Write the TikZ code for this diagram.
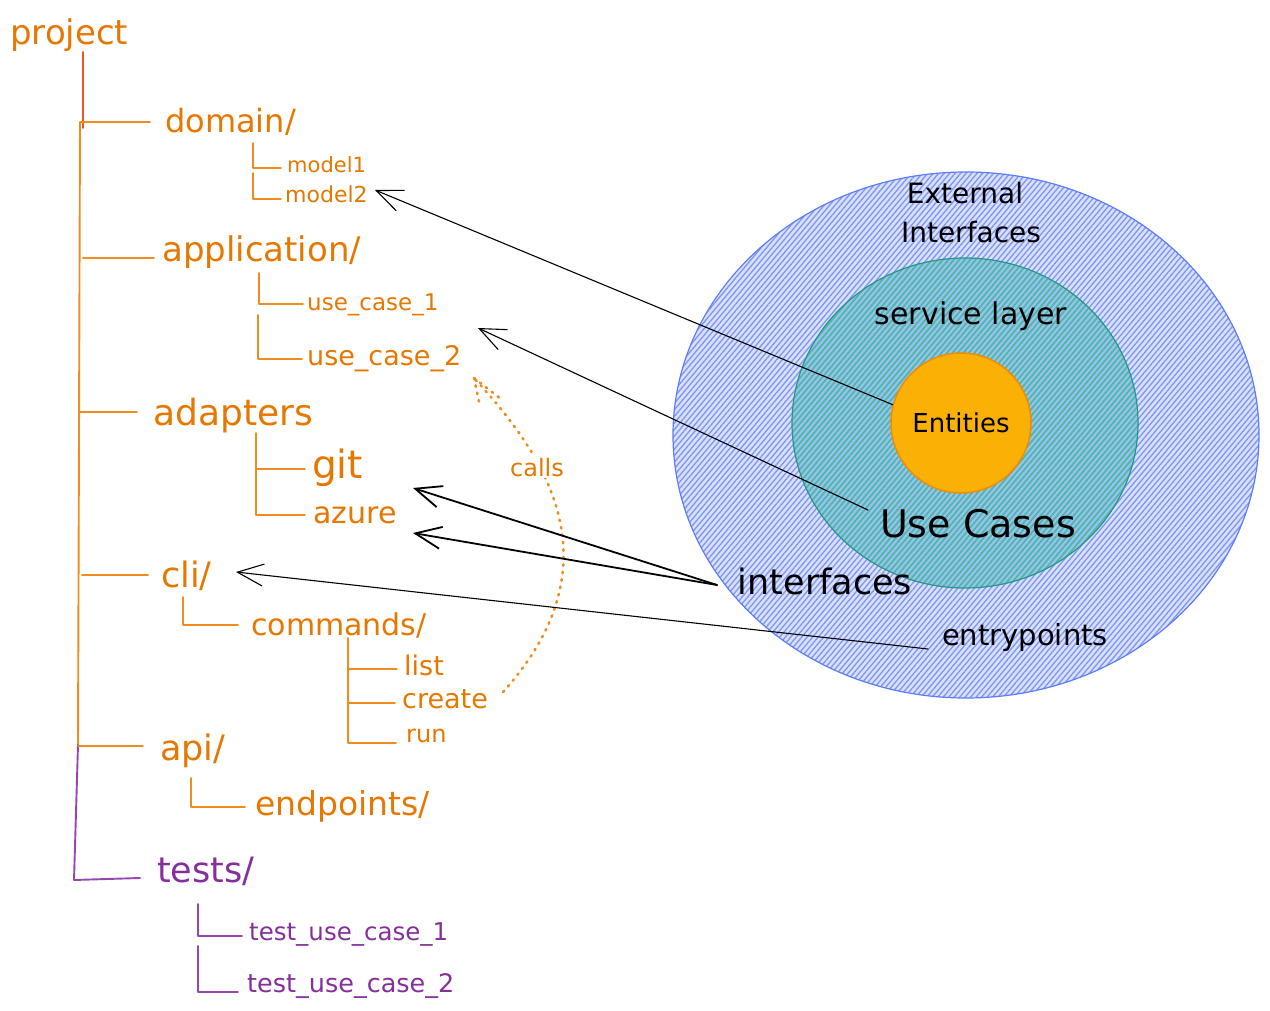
\documentclass[tikz,border=0pt]{standalone}
\usepackage{fontspec}
\setmainfont{DejaVu Sans}
\usetikzlibrary{arrows.meta,patterns.meta,calc}
\definecolor{orT}{RGB}{230,119,0}
\definecolor{orL}{RGB}{240,140,30}
\definecolor{redL}{RGB}{228,90,40}
\definecolor{puT}{RGB}{134,46,156}
\definecolor{puL}{RGB}{150,70,175}
\definecolor{blueFill}{RGB}{218,225,252}
\definecolor{blueHatch}{RGB}{130,152,242}
\definecolor{blueLine}{RGB}{92,124,250}
\definecolor{tealFill}{RGB}{160,190,242}
\definecolor{tealHatch}{RGB}{70,188,165}
\definecolor{tealLine}{RGB}{40,150,130}
\definecolor{entFill}{RGB}{250,176,5}
\definecolor{entLine}{RGB}{240,140,0}
\newcommand\myfs[1]{\fontsize{#1}{#1}\selectfont}
\tikzset{
  ot/.style={text=orT, inner sep=0pt, anchor=base west},
  pt/.style={text=puT, inner sep=0pt, anchor=base west},
  bt/.style={text=black, inner sep=0pt, anchor=base},
  oline/.style={draw=orL, line width=1.9pt, line cap=round, line join=round},
  pline/.style={draw=puL, line width=1.9pt, line cap=round, line join=round},
  arr/.style={draw=black, line width=1.1pt, line cap=round, line join=round,
    -{Straight Barb[length=26pt,width=22pt]}},
  dots/.style={draw=orL, line width=2.6pt, line cap=round, dash pattern=on 1.5pt off 6pt},
  bluehatch/.style={pattern={Lines[angle=50, distance=4.2pt, line width=1.4pt]}, pattern color=blueHatch},
  tealhatch/.style={pattern={Lines[angle=50, distance=4.2pt, line width=1.8pt]}, pattern color=tealHatch},
}
\begin{document}
\begin{tikzpicture}[x=1pt,y=-1pt]
\useasboundingbox (0,0) rectangle (1270,1011);
% ---------- onion ----------
\fill[blueFill] (966,435) ellipse [x radius=293, y radius=263];
\path[bluehatch] (966,435) ellipse [x radius=293, y radius=263];
\draw[blueLine, line width=1.2pt] (966,435) ellipse [x radius=293, y radius=263];
\fill[tealFill] (965,423) ellipse [x radius=173, y radius=165];
\path[tealhatch] (965,423) ellipse [x radius=173, y radius=165];
\draw[tealLine, line width=1.2pt] (965,423) ellipse [x radius=173, y radius=165];
\node[circle, minimum size=140pt, inner sep=0pt, fill=entFill, draw=entLine, line width=1.5pt,
      font={\myfs{26}}] (ent) at (961,423) {Entities};
\node[bt, font={\myfs{28}}] (ext1) at (965,204) {External};
\node[bt, font={\myfs{28}}] (ext2) at (971,243) {Interfaces};
\node[bt, font={\myfs{30}}] (svc) at (971,325) {service layer};
\node[bt, font={\myfs{38}}] (uc) at (978,537) {Use Cases};
\node[bt, font={\myfs{35}}] (intf) at (825,594) {interfaces};
\node[bt, font={\myfs{29}}] (entry) at (1025,645) {entrypoints};
% ---------- tree texts ----------
\node[ot, font={\myfs{34}}] (project) at (10,45) {project};
\node[ot, font={\myfs{32}}] (domain) at (165,133) {domain/};
\node[ot, font={\myfs{21}}] (model1) at (287,173) {model1};
\node[ot, font={\myfs{22}}] (model2) at (285,203) {model2};
\node[ot, font={\myfs{34}}] (application) at (162,262) {application/};
\node[ot, font={\myfs{23}}] (uc1) at (307,310) {use\_case\_1};
\node[ot, font={\myfs{27}}] (uc2) at (307,365) {use\_case\_2};
\node[ot, font={\myfs{36}}] (adapters) at (153,425) {adapters};
\node[ot, font={\myfs{39}}] (git) at (312,478) {git};
\node[ot, font={\myfs{30}}] (azure) at (313,523) {azure};
\node[ot, font={\myfs{35}}] (cli) at (161,587) {cli/};
\node[ot, font={\myfs{30}}] (commands) at (251,635) {commands/};
\node[ot, font={\myfs{27}}] (list) at (404,675) {list};
\node[ot, font={\myfs{27}}] (create) at (402,708) {create};
\node[ot, font={\myfs{24}}] (run) at (406,742) {run};
\node[ot, font={\myfs{35}}] (api) at (160,760) {api/};
\node[ot, font={\myfs{33}}] (endpoints) at (255,815) {endpoints/};
\node[pt, font={\myfs{35}}] (tests) at (157,882) {tests/};
\node[pt, font={\myfs{24.5}}] (tuc1) at (249,940) {test\_use\_case\_1};
\node[pt, font={\myfs{25.5}}] (tuc2) at (247,992) {test\_use\_case\_2};
% ---------- tree lines ----------
\draw[draw=redL, line width=1.9pt, line cap=round] (83,52) -- (83,128);
\draw[oline] (80,122) -- (78,745);
\draw[pline] (78,745) -- (74,880) -- (140,878);
\draw[oline] (80,122) -- (150,122);
\draw[oline] (253,143) -- (253,168) -- (281,168);
\draw[oline] (253,173) -- (253,199) -- (281,199);
\draw[oline] (83,258) -- (154,258);
\draw[oline] (259,273) -- (259,304) -- (303,304);
\draw[oline] (258,315) -- (258,359) -- (302,359);
\draw[oline] (80,412) -- (137,412);
\draw[oline] (256,433) -- (256,515) -- (305,515);
\draw[oline] (256,469) -- (305,469);
\draw[oline] (82,575) -- (148,575);
\draw[oline] (183,597) -- (183,625) -- (238,625);
\draw[oline] (348,638) -- (348,743) -- (396,743);
\draw[oline] (348,669) -- (397,669);
\draw[oline] (348,703) -- (395,703);
\draw[oline] (78,746) -- (143,746);
\draw[oline] (191,778) -- (191,807) -- (245,807);
\draw[pline] (198,904) -- (198,936) -- (242,936);
\draw[pline] (198,946) -- (198,992) -- (238,992);
% ---------- calls ----------
\coordinate (crEnd) at (503,692);
\coordinate (uc2Tip) at (474,378);
\draw[dots] (crEnd) .. controls (622,560) and (540,450) .. (uc2Tip);
\draw[dots] (uc2Tip) -- (480,406);
\draw[dots] (uc2Tip) -- (501,399);
\node[text=orT, fill=white, inner sep=2pt, anchor=base, font={\myfs{24}}] (calls) at (537,476) {calls};
% ---------- arrows ----------
\coordinate (tipM2) at (375,190);
\coordinate (tipUC2) at (478,328);
\coordinate (tipGit) at (413,488);
\coordinate (tipAz) at (413,533);
\coordinate (tipCli) at (236,572);
\coordinate (ucStart) at (868,510);
\coordinate (ifStart) at (717,585);
\coordinate (epStart) at (928,649);
\draw[arr] (ent.165) -- (tipM2);
\draw[arr] (ucStart) -- (tipUC2);
\draw[arr, line width=1.8pt] (ifStart) -- (tipGit);
\draw[arr, line width=1.8pt] (ifStart) -- (tipAz);
\draw[arr] (epStart) -- (tipCli);
\end{tikzpicture}
\end{document}
